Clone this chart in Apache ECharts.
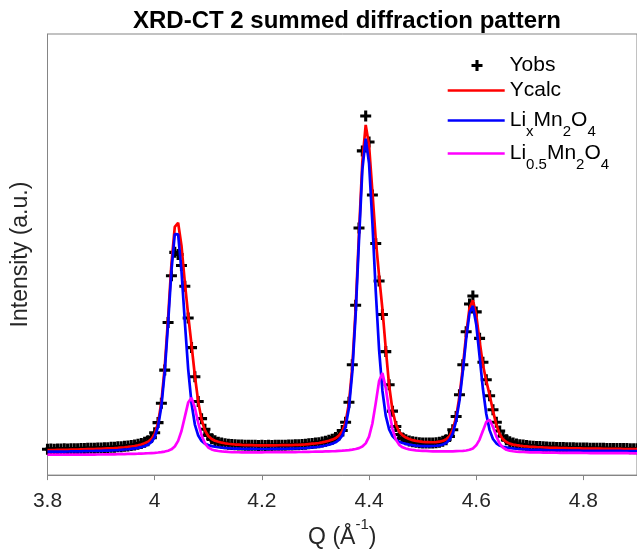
<!DOCTYPE html>
<html><head><meta charset="utf-8">
<script src="https://cdn.jsdelivr.net/npm/echarts@6/dist/echarts.min.js"></script>
<style>html,body{margin:0;padding:0;background:#fff}#c{width:637px;height:554px}</style>
</head><body><div id="c"></div>
<script>
// Q grid (Å^-1): start and step of the sampled pattern
const qStart = 3.8;
const qStep = 0.00625;
const xTickValues = [3.8, 4, 4.2, 4.4, 4.6, 4.8];

const yobs = [5.85,5.90,5.88,5.92,5.90,5.95,5.93,5.97,5.96,6.00,
6.01,6.05,6.06,6.10,6.09,6.15,6.16,6.21,6.22,6.30,
6.33,6.40,6.45,6.55,6.60,6.72,6.82,7.00,7.15,7.45,
7.80,8.50,9.60,11.9,16.3,23.8,34.6,45.2,50.5,50.0,
47.5,42.8,35.6,28.9,22.3,16.7,12.8,10.4,9.0,8.25,
7.80,7.45,7.25,7.10,7.00,6.92,6.88,6.83,6.80,6.78,
6.76,6.77,6.74,6.73,6.74,6.72,6.74,6.73,6.76,6.75,
6.78,6.79,6.80,6.83,6.86,6.90,6.95,7.00,7.08,7.18,
7.25,7.36,7.50,7.68,7.90,8.15,8.50,9.10,10.1,12.0,
16.5,25.0,38.5,56.0,73.5,81.4,75.5,63.5,52.5,44.0,
36.4,28.0,20.5,14.5,11.0,9.2,8.4,8.0,7.75,7.55,
7.45,7.35,7.30,7.28,7.27,7.28,7.33,7.45,7.65,8.0,
8.75,10.3,13.3,18.2,25.0,32.5,38.8,40.6,37.0,31.0,
25.6,21.6,18.0,14.8,12.0,10.0,8.8,8.0,7.55,7.25,
7.05,6.90,6.80,6.70,6.62,6.56,6.50,6.46,6.42,6.38,
6.34,6.31,6.28,6.26,6.24,6.22,6.20,6.18,6.16,6.15,
6.13,6.12,6.10,6.09,6.08,6.07,6.06,6.05,6.04,6.04,
6.03,6.02,6.02,6.01,6.00,6.00,6.00];

const ycalc = [5.67,5.68,5.69,5.71,5.72,5.73,5.74,5.76,5.77,5.79,
5.82,5.84,5.87,5.89,5.91,5.94,5.96,6.00,6.04,6.08,
6.12,6.18,6.25,6.31,6.38,6.49,6.60,6.75,6.93,7.20,
7.54,8.16,9.34,11.79,16.52,24.47,35.55,47.84,56.3,57.2,
52.03,43.71,36.25,29.52,22.52,16.62,12.55,10.14,8.86,8.19,
7.79,7.56,7.35,7.21,7.10,7.01,6.93,6.90,6.85,6.81,
6.80,6.79,6.76,6.74,6.74,6.75,6.74,6.75,6.76,6.77,
6.78,6.79,6.79,6.81,6.85,6.87,6.92,6.96,7.04,7.12,
7.18,7.28,7.42,7.58,7.79,8.04,8.36,8.94,9.93,11.99,
16.32,24.54,37.72,54.82,71.06,79.4,74.81,64.28,53.43,45.14,
37.60,28.54,20.31,14.69,11.50,9.83,9.01,8.52,8.18,7.92,
7.75,7.63,7.52,7.49,7.46,7.45,7.47,7.57,7.75,8.09,
8.80,10.32,13.16,17.83,24.45,31.92,37.94,39.6,36.32,30.41,
25.04,21.35,18.17,14.57,11.44,9.31,8.09,7.49,7.14,6.91,
6.78,6.67,6.58,6.50,6.42,6.38,6.34,6.31,6.27,6.24,
6.20,6.18,6.16,6.14,6.13,6.11,6.09,6.07,6.06,6.04,
6.02,6.01,6.00,5.99,5.99,5.98,5.97,5.96,5.95,5.94,
5.93,5.93,5.92,5.91,5.90,5.90,5.89];

const lixMn2O4 = [5.30,5.31,5.31,5.32,5.33,5.34,5.35,5.36,5.37,5.39,
5.40,5.42,5.44,5.46,5.47,5.49,5.51,5.54,5.57,5.60,
5.63,5.68,5.74,5.80,5.86,5.95,6.04,6.17,6.33,6.57,
6.88,7.46,8.59,10.96,15.59,23.41,34.31,46.27,54.65,54.56,
46.30,34.76,24.04,16.24,11.46,8.96,7.74,7.13,6.80,6.58,
6.42,6.32,6.23,6.16,6.10,6.05,6.01,6.00,5.97,5.95,
5.95,5.94,5.93,5.92,5.92,5.92,5.92,5.93,5.94,5.95,
5.96,5.97,5.98,6.00,6.03,6.05,6.09,6.13,6.20,6.27,
6.33,6.43,6.55,6.70,6.89,7.13,7.43,7.97,8.94,10.95,
15.20,23.33,36.38,53.28,69.18,76.28,70.69,57.19,41.70,28.41,
19.07,13.41,10.37,8.84,8.04,7.55,7.28,7.07,6.91,6.78,
6.69,6.63,6.58,6.57,6.58,6.60,6.65,6.75,6.93,7.28,
7.99,9.48,12.29,16.93,23.51,30.89,36.77,38.36,34.15,26.92,
19.57,13.86,10.20,8.19,7.21,6.70,6.43,6.28,6.14,6.05,
5.98,5.92,5.86,5.82,5.77,5.75,5.72,5.70,5.67,5.65,
5.63,5.62,5.61,5.60,5.59,5.58,5.57,5.56,5.55,5.53,
5.52,5.52,5.51,5.51,5.50,5.50,5.49,5.49,5.48,5.48,
5.47,5.47,5.46,5.46,5.45,5.45,5.44];

const li05Mn2O4 = [4.62,4.62,4.62,4.63,4.63,4.63,4.63,4.64,4.64,4.64,
4.65,4.65,4.66,4.66,4.66,4.67,4.67,4.68,4.69,4.71,
4.72,4.74,4.76,4.77,4.79,4.81,4.83,4.85,4.88,4.91,
4.95,5.00,5.05,5.12,5.22,5.34,5.52,5.84,6.47,7.75,
9.99,13.19,16.44,17.50,15.28,11.87,9.02,7.21,6.26,5.82,
5.59,5.47,5.36,5.30,5.26,5.23,5.20,5.18,5.17,5.16,
5.16,5.16,5.16,5.16,5.17,5.18,5.18,5.19,5.20,5.20,
5.21,5.21,5.21,5.22,5.23,5.24,5.25,5.26,5.28,5.29,
5.30,5.31,5.34,5.36,5.38,5.41,5.44,5.49,5.53,5.59,
5.68,5.78,5.91,6.12,6.47,7.19,8.72,11.69,16.32,21.32,
23.12,19.71,14.52,10.43,8.04,6.85,6.30,6.02,5.83,5.70,
5.62,5.55,5.49,5.47,5.43,5.40,5.38,5.37,5.37,5.37,
5.37,5.40,5.43,5.46,5.50,5.58,5.74,6.05,6.74,8.05,
10.03,12.05,12.53,10.94,8.79,7.15,6.21,5.75,5.54,5.41,
5.34,5.28,5.24,5.21,5.17,5.16,5.14,5.13,5.11,5.10,
5.09,5.08,5.07,5.06,5.06,5.05,5.04,5.03,5.03,5.02,
5.01,5.01,5.00,5.00,4.99,4.99,4.98,4.98,4.98,4.97,
4.97,4.96,4.96,4.96,4.95,4.95,4.94];

const legendLabels = {
  'Yobs': '{g| }{n|Yobs}',
  'Ycalc': '{n|Ycalc}',
  'LixMn2O4': '{n|Li}{s|x}{n|Mn}{s|2}{n|O}{s|4}',
  'Li0.5Mn2O4': '{n|Li}{s|0.5}{n|Mn}{s|2}{n|O}{s|4}'
};

const qValues = yobs.map((_, i) => +(qStart + i * qStep).toFixed(5));
const pairs = arr => arr.map((v, i) => [qValues[i], v]);

const FONT = '"Liberation Sans", Arial, Helvetica, sans-serif';
const plusPath = 'path://M3.6,0H6.4V3.6H10V6.4H6.4V10H3.6V6.4H0V3.6H3.6Z';
const AX = '#858585';
const TXT = '#262626';

const legendRich = {
  g: { width: 22, fontSize: 21, lineHeight: 38 },
  n: { fontSize: 21, lineHeight: 38, color: '#000', fontFamily: FONT },
  s: { fontSize: 15, lineHeight: 38, verticalAlign: 'bottom', color: '#000', fontFamily: FONT }
};
function makeLegend(name, left, top, icon, w, h) {
  return {
    data: [{ name: name, icon: icon }],
    left: left, top: top, orient: 'vertical',
    itemWidth: w, itemHeight: h, itemGap: 0, padding: 0,
    selectedMode: false,
    formatter: n => legendLabels[n],
    textStyle: { fontFamily: FONT, fontSize: 21, color: '#000', rich: legendRich }
  };
}

const chart = echarts.init(document.getElementById('c'), null, { renderer: 'canvas' });
chart.setOption({
  animation: false,
  backgroundColor: '#fff',
  title: {
    text: 'XRD-CT 2 summed diffraction pattern',
    left: 342, top: 4, textAlign: 'center',
    textStyle: { fontFamily: FONT, fontSize: 24, fontWeight: 'bold', color: '#000' }
  },
  grid: { left: 47.5, right: -5, top: 34, bottom: 76, show: true, borderColor: AX, borderWidth: 1, backgroundColor: 'transparent' },
  legend: [
    makeLegend('Yobs', 471.5, 55, plusPath, 11, 11),
    makeLegend('Ycalc', 447.7, 80, 'rect', 57, 2.7),
    makeLegend('LixMn2O4', 447.7, 110, 'rect', 57, 2.7),
    makeLegend('Li0.5Mn2O4', 447.7, 143, 'rect', 57, 2.7)
  ],
  xAxis: {
    type: 'value', min: 3.8, max: 4.9, interval: 0.2,
    name: '{n|Q (Å}{sup|-1}{n|)}', nameLocation: 'middle', nameGap: 37,
    nameTextStyle: {
      fontFamily: FONT, color: TXT,
      rich: {
        n: { fontSize: 23, lineHeight: 32, verticalAlign: 'bottom', color: TXT, fontFamily: FONT },
        sup: { fontSize: 15, lineHeight: 32, verticalAlign: 'top', color: TXT, fontFamily: FONT }
      }
    },
    axisLine: { show: true, lineStyle: { color: AX, width: 1 } },
    axisTick: { show: true, inside: false, length: 5, lineStyle: { color: AX } },
    axisLabel: {
      show: true, margin: 16, color: TXT, fontSize: 21, fontFamily: FONT,
      showMaxLabel: false,
      formatter: v => (xTickValues.some(t => Math.abs(t - v) < 1e-6) ? String(+v.toFixed(1)) : '')
    },
    splitLine: { show: false }
  },
  yAxis: {
    type: 'value', min: 0, max: 100,
    name: 'Intensity (a.u.)', nameLocation: 'middle', nameGap: 15,
    nameTextStyle: { fontFamily: FONT, fontSize: 23, color: TXT },
    axisLine: { show: true, lineStyle: { color: AX, width: 1 } },
    axisTick: { show: false }, axisLabel: { show: false }, splitLine: { show: false }
  },
  series: [
    {
      name: 'Yobs', type: 'scatter', data: pairs(yobs),
      symbol: plusPath, symbolSize: 11,
      itemStyle: { color: '#000', opacity: 1 },
      emphasis: { disabled: true }
    },
    {
      name: 'Ycalc', type: 'line', data: pairs(ycalc), showSymbol: false, symbol: 'none',
      lineStyle: { color: '#ff0000', width: 2.7 }, itemStyle: { color: '#ff0000' }
    },
    {
      name: 'LixMn2O4', type: 'line', data: pairs(lixMn2O4), showSymbol: false, symbol: 'none',
      lineStyle: { color: '#0000ff', width: 2.7 }, itemStyle: { color: '#0000ff' }
    },
    {
      name: 'Li0.5Mn2O4', type: 'line', data: pairs(li05Mn2O4), showSymbol: false, symbol: 'none',
      lineStyle: { color: '#ff00ff', width: 2.7 }, itemStyle: { color: '#ff00ff' }
    }
  ]
});
</script>
</body></html>
